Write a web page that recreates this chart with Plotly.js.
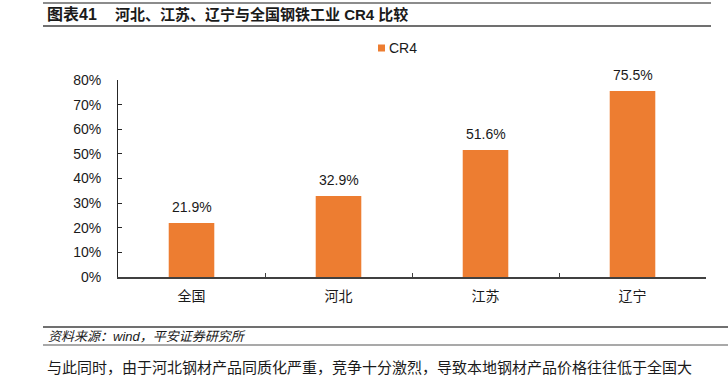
<!DOCTYPE html>
<html>
<head>
<meta charset="utf-8">
<script src="https://cdn.plot.ly/plotly-3.0.1.min.js"></script>
<style>html,body{margin:0;padding:0;background:#fff;}#chart{width:728px;height:377px;}</style>
</head>
<body>
<div id="chart"></div>
<script>
const categories = ['全国', '河北', '江苏', '辽宁'];
const cr4Values = [0.219, 0.329, 0.516, 0.755];
const seriesName = 'CR4';
const yTickValues = [0, 0.1, 0.2, 0.3, 0.4, 0.5, 0.6, 0.7, 0.8];

const W = 728, H = 377;
const L = 118, R = 706, T = 80, B = 277;
const px = x => (x - L) / (R - L);
const py = y => (B - y) / (B - T);
const FONT = 'Liberation Sans, Arial, Noto Sans CJK SC, sans-serif';

const trace = {
  type: 'bar',
  x: categories,
  y: cr4Values,
  name: seriesName,
  width: 0.31,
  marker: {color: '#ED7D31'},
  hoverinfo: 'skip'
};

const valueLabels = categories.map((c, i) => ({
  x: c, y: cr4Values[i], xref: 'x', yref: 'y',
  text: (cr4Values[i] * 100).toFixed(1) + '%',
  showarrow: false, yanchor: 'bottom', yshift: 6,
  font: {family: FONT, size: 14, color: '#1a1a1a'}
}));

const layout = {
  width: W, height: H,
  margin: {l: L, r: W - R, t: T, b: H - B, pad: 0},
  paper_bgcolor: '#fff', plot_bgcolor: '#fff',
  showlegend: false,
  font: {family: FONT, size: 13, color: '#1a1a1a'},
  xaxis: {
    type: 'category',
    range: [-0.5, 3.5],
    showline: true, linecolor: '#404040', linewidth: 2,
    ticks: 'inside', tickson: 'boundaries', ticklen: 4, tickwidth: 1, tickcolor: '#404040',
    showgrid: false, zeroline: false,
    tickfont: {family: 'Noto Sans CJK SC, sans-serif', size: 14, color: '#1a1a1a'},
    ticklabelstandoff: 5
  },
  yaxis: {
    range: [0, 0.8],
    tickvals: yTickValues,
    ticktext: yTickValues.map(v => Math.round(v * 100) + '%'),
    showline: true, linecolor: '#262626', linewidth: 1,
    ticks: 'inside', ticklen: 4, tickwidth: 1, tickcolor: '#262626',
    showgrid: false, zeroline: false,
    tickfont: {family: FONT, size: 14, color: '#1a1a1a'},
    ticklabelstandoff: 13
  },
  shapes: [
    {type: 'line', xref: 'paper', yref: 'paper', x0: px(43), x1: px(711), y0: py(3), y1: py(3), line: {color: '#8c8c8c', width: 2}},
    {type: 'line', xref: 'paper', yref: 'paper', x0: px(43), x1: px(711), y0: py(26), y1: py(26), line: {color: '#404040', width: 1.5}},
    {type: 'rect', xref: 'paper', yref: 'paper', x0: px(378), x1: px(385), y0: py(44.5), y1: py(51.5), fillcolor: '#ED7D31', line: {width: 0}},
    {type: 'line', xref: 'paper', yref: 'paper', x0: px(43), x1: px(728), y0: py(327), y1: py(327), line: {color: '#404040', width: 1.5}},
    {type: 'line', xref: 'paper', yref: 'paper', x0: px(43), x1: px(728), y0: py(345), y1: py(345), line: {color: '#8c8c8c', width: 1.5}}
  ],
  annotations: valueLabels.concat([
    {xref: 'paper', yref: 'paper', x: px(45), y: py(14), xanchor: 'left', yanchor: 'middle', showarrow: false,
     text: '<b>图表41</b>', font: {family: 'Liberation Sans, Noto Sans CJK SC, sans-serif', size: 16, color: '#1a1a1a'}},
    {xref: 'paper', yref: 'paper', x: px(113), y: py(14), xanchor: 'left', yanchor: 'middle', showarrow: false,
     text: '<b>河北、江苏、辽宁与全国钢铁工业 CR4 比较</b>', font: {family: 'Liberation Sans, Noto Sans CJK SC, sans-serif', size: 15, color: '#1a1a1a'}},
    {xref: 'paper', yref: 'paper', x: px(387), y: py(48), xanchor: 'left', yanchor: 'middle', showarrow: false,
     text: seriesName, font: {family: FONT, size: 14, color: '#1a1a1a'}},
    {xref: 'paper', yref: 'paper', x: px(46), y: py(336), xanchor: 'left', yanchor: 'middle', showarrow: false,
     text: '<i>资料来源：wind，平安证券研究所</i>', font: {family: 'Liberation Sans, Noto Sans CJK SC, sans-serif', size: 13, color: '#1a1a1a'}},
    {xref: 'paper', yref: 'paper', x: px(45), y: py(366), xanchor: 'left', yanchor: 'middle', showarrow: false,
     text: '与此同时，由于河北钢材产品同质化严重，竞争十分激烈，导致本地钢材产品价格往往低于全国大', font: {family: 'Noto Sans CJK SC, sans-serif', size: 15, color: '#1a1a1a'}}
  ])
};

Plotly.newPlot('chart', [trace], layout, {displayModeBar: false, staticPlot: true});
</script>
</body>
</html>
